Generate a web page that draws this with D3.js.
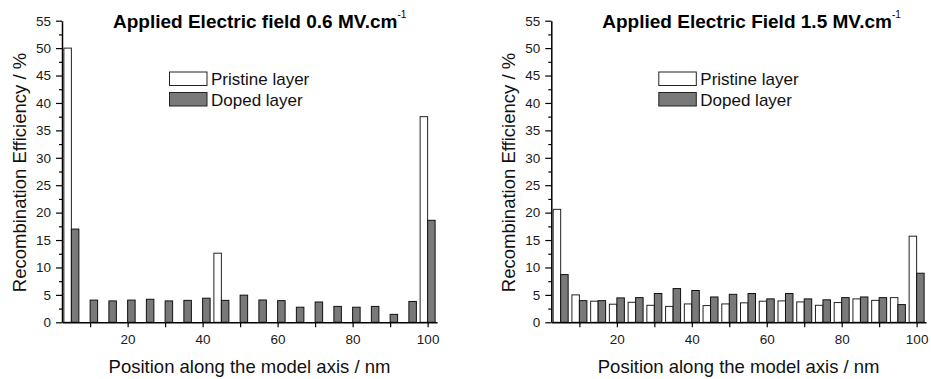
<!DOCTYPE html>
<html>
<head>
<meta charset="utf-8">
<script src="https://cdn.jsdelivr.net/npm/d3@7/dist/d3.min.js"></script>
<style>
  html, body { margin: 0; padding: 0; background: #fff; }
  svg { display: block; font-family: "Liberation Sans", Arial, sans-serif; }
</style>
</head>
<body>
<svg id="chart" width="931" height="379"></svg>
<script>
// ---- Data ----
const positions = [5, 10, 15, 20, 25, 30, 35, 40, 45, 50, 55, 60, 65, 70, 75, 80, 85, 90, 95, 100];

const pristine06 = [50, 0, 0, 0, 0, 0, 0, 0, 12.6, 0, 0, 0, 0, 0, 0, 0, 0, 0, 0, 37.5];
const doped06    = [17.0, 4.05, 3.9, 4.05, 4.2, 3.9, 4.0, 4.4, 4.0, 4.95, 4.07, 3.95, 2.75, 3.7, 2.9, 2.75, 2.9, 1.45, 3.8, 18.6];

const pristine15 = [20.6, 5.0, 3.85, 3.3, 3.65, 3.1, 2.9, 3.35, 3.05, 3.35, 3.55, 3.85, 3.9, 3.72, 3.1, 3.6, 4.27, 4.0, 4.5, 15.7];
const doped15    = [8.7, 3.95, 3.95, 4.45, 4.5, 5.25, 6.15, 5.8, 4.62, 5.1, 5.25, 4.27, 5.25, 4.27, 4.1, 4.5, 4.62, 4.5, 3.23, 8.95];

const yMajorTicks = [0, 5, 10, 15, 20, 25, 30, 35, 40, 45, 50, 55];
const yMinorTicks = [2.5, 7.5, 12.5, 17.5, 22.5, 27.5, 32.5, 37.5, 42.5, 47.5, 52.5];
const xTicks = [10, 20, 30, 40, 50, 60, 70, 80, 90, 100];
const xTickLabels = [20, 40, 60, 80, 100];

const seriesNames = ["Pristine layer", "Doped layer"];
const titles = [
  { main: "Applied Electric field 0.6 MV.cm", sup: "-1" },
  { main: "Applied Electric Field 1.5 MV.cm", sup: "-1" }
];
const xAxisTitle = "Position along the model axis / nm";
const yAxisTitle = "Recombination Efficiency / %";

// ---- Layout ----
const svg = d3.select("#chart");
const panels = [
  { left: 62, right: 437, title: titles[0], p: pristine06, d: doped06 },
  { left: 551.3, right: 926, title: titles[1], p: pristine15, d: doped15 }
];
const plotTop = 20.7, plotBottom = 322.3;
const barW = 2; // in data units (nm)
const dopedFill = "#797979";

panels.forEach((pn, idx) => {
  const g = svg.append("g");
  const x = d3.scaleLinear().domain([2.5, 102.5]).range([pn.left, pn.right]);
  const y = d3.scaleLinear().domain([0, 55]).range([plotBottom, plotTop]);

  // Bars
  const bars = g.append("g");
  bars.selectAll("rect.p").data(positions.map((c, i) => ({ c, v: pn.p[i] })).filter(d => d.v > 0))
    .join("rect").attr("class", "p")
    .attr("x", d => x(d.c - barW)).attr("width", d => x(d.c) - x(d.c - barW))
    .attr("y", d => y(d.v)).attr("height", d => y(0) - y(d.v))
    .attr("fill", "#fff").attr("stroke", "#222").attr("stroke-width", 1);
  bars.selectAll("rect.d").data(positions.map((c, i) => ({ c, v: pn.d[i] })))
    .join("rect").attr("class", "d")
    .attr("x", d => x(d.c)).attr("width", d => x(d.c + barW) - x(d.c))
    .attr("y", d => y(d.v)).attr("height", d => y(0) - y(d.v))
    .attr("fill", dopedFill).attr("stroke", "#111").attr("stroke-width", 1);

  // Y axis
  g.append("g").attr("transform", `translate(${pn.left},0)`)
    .call(d3.axisLeft(y).tickValues(yMajorTicks).tickSize(6).tickSizeOuter(0).tickPadding(5));
  g.append("g").attr("transform", `translate(${pn.left},0)`)
    .call(d3.axisLeft(y).tickValues(yMinorTicks).tickSize(3).tickFormat(""))
    .call(s => s.select(".domain").remove());

  // X axis
  g.append("g").attr("transform", `translate(0,${plotBottom})`)
    .call(d3.axisBottom(x).tickValues(xTicks).tickSize(5).tickSizeOuter(0).tickPadding(7)
      .tickFormat(d => xTickLabels.includes(d) ? d : ""));

  g.selectAll(".domain").attr("stroke", "#000").attr("stroke-width", 1.5);
  g.selectAll(".tick line").attr("stroke", "#000").attr("stroke-width", 1.2);
  g.selectAll(".tick text").attr("font-size", "13.5px").attr("fill", "#1a1a1a")
    .attr("font-family", '"Liberation Sans", Arial, sans-serif');

  // Axis titles
  g.append("text")
    .attr("transform", `translate(${pn.left - 36.3},${(plotTop + plotBottom) / 2 + 1}) rotate(-90)`)
    .attr("text-anchor", "middle").attr("font-size", "18.5px").attr("fill", "#111")
    .text(yAxisTitle);
  g.append("text")
    .attr("x", (pn.left + pn.right) / 2).attr("y", 372.5)
    .attr("text-anchor", "middle").attr("font-size", "18.5px").attr("fill", "#111")
    .text(xAxisTitle);

  // Title
  const t = g.append("text")
    .attr("x", pn.left + 51).attr("y", 28.3)
    .attr("font-size", "19px").attr("font-weight", "bold").attr("fill", "#000");
  t.append("tspan").text(pn.title.main);
  t.append("tspan").attr("dy", -10).attr("font-size", "10px").attr("font-weight", "normal").text(pn.title.sup);

  // Legend
  const lg = g.append("g").attr("transform", `translate(${pn.left + 107.5},0)`);
  const fills = ["#fff", dopedFill];
  const boxY = [72, 92.5];
  seriesNames.forEach((name, i) => {
    lg.append("rect").attr("x", 0).attr("y", boxY[i]).attr("width", 37.5).attr("height", 13.5)
      .attr("fill", fills[i]).attr("stroke", "#222").attr("stroke-width", 1);
    lg.append("text").attr("x", 41.5).attr("y", boxY[i] + 13)
      .attr("font-size", "17px").attr("fill", "#111").text(name);
  });
});
</script>
</body>
</html>
